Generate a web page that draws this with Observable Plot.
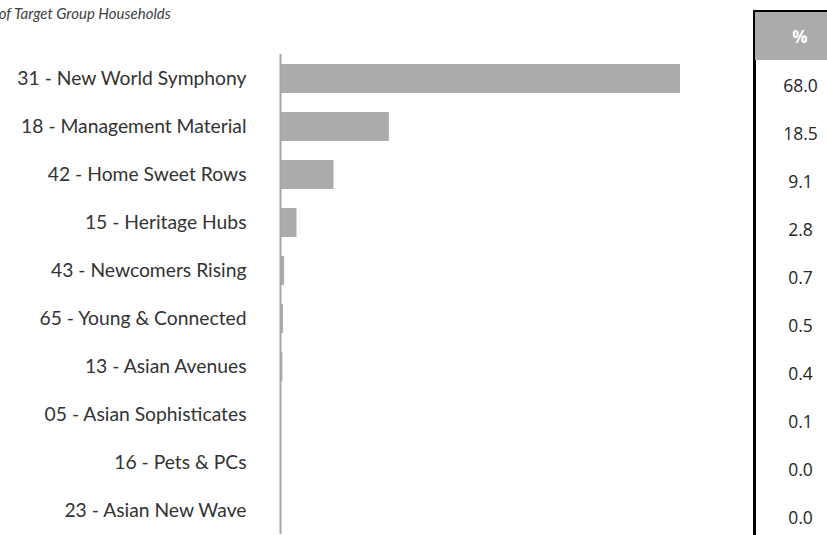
<!DOCTYPE html>
<html><head><meta charset="utf-8">
<script src="https://cdn.jsdelivr.net/npm/d3@7"></script>
<script src="https://cdn.jsdelivr.net/npm/@observablehq/plot@0.6"></script>
<style>
body{margin:0;background:#fff;}
#wrap{position:relative;width:827px;height:535px;overflow:hidden;}
#title{position:absolute;left:-16px;top:4px;font:italic 15px Lato;color:#404040;white-space:nowrap;z-index:2;}
#tline{position:absolute;left:753px;top:10px;width:2.5px;height:525px;background:#000;z-index:2;}
#ttop{position:absolute;left:753px;top:10px;width:74px;height:2px;background:#000;z-index:2;}
#thead{position:absolute;left:755px;top:12px;width:72px;height:48px;background:#ababab;color:#fff;font:bold 17px "Open Sans";display:flex;align-items:center;justify-content:center;padding-left:18px;box-sizing:border-box;z-index:2;}
#chart{position:absolute;left:0;top:0;}
</style></head><body>
<div id="wrap">
<div id="title">% of Target Group Households</div>
<div id="tline"></div><div id="ttop"></div>
<div id="thead">%</div>
<div id="chart"></div>
</div>
<script>
const categories = ["31 - New World Symphony","18 - Management Material","42 - Home Sweet Rows","15 - Heritage Hubs","43 - Newcomers Rising","65 - Young & Connected","13 - Asian Avenues","05 - Asian Sophisticates","16 - Pets & PCs","23 - Asian New Wave"];
const values = [68.0,18.5,9.1,2.8,0.7,0.5,0.4,0.1,0.0,0.0];
const tableHeader = "%";
const data = categories.map((c,i)=>({name:c, value:values[i]}));

const chart = Plot.plot({
  width: 827, height: 535,
  marginTop: 54, marginBottom: 1, marginLeft: 280, marginRight: 0,
  style: {background: "transparent", overflow: "visible"},
  x: {domain: [0, 93], axis: null},
  y: {domain: categories, paddingInner: 0.4, paddingOuter: 0.2, label: null},
  marks: [
    Plot.barX(data, {x: "value", y: "name", fill: "#ababab"}),
    Plot.ruleX([0], {stroke: "#a6a6a6", strokeWidth: 2}),
    Plot.axisY({tickSize: 0, tickPadding: 34, fontSize: 19.3, fontFamily: "Lato", fill: "#333", label: null}),
    Plot.text(data, {y: "name", text: d => d.value.toFixed(1), frameAnchor: "right", dx: -27, dy: 7, textAnchor: "middle", fontSize: 17.5, fontFamily: "Open Sans", fill: "#262626"})
  ]
});
document.getElementById("chart").append(chart);
</script>
</body></html>
